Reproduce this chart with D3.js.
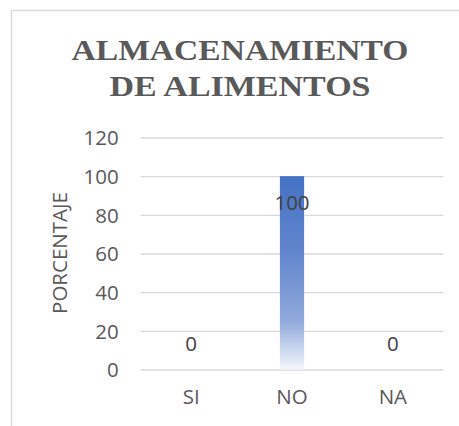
<!DOCTYPE html>
<html>
<head>
<meta charset="utf-8">
<script src="https://cdn.jsdelivr.net/npm/d3@7"></script>
<style>
  html, body { margin: 0; padding: 0; background: #fff; }
  svg { display: block; }
</style>
</head>
<body>
<svg id="chart" width="459" height="426"></svg>
<script>
const categories = ["SI", "NO", "NA"];
const values = [0, 100, 0];
const yTicks = [0, 20, 40, 60, 80, 100, 120];
const titleLines = ["ALMACENAMIENTO", "DE ALIMENTOS"];
const yAxisTitle = "PORCENTAJE";

const svg = d3.select("#chart");
const W = 459, H = 426;

// chart border
svg.append("rect")
  .attr("x", 11.5).attr("y", 10.5)
  .attr("width", W + 20).attr("height", H + 20)
  .attr("fill", "#fff").attr("stroke", "#d9d9d9").attr("stroke-width", 1.3);

const plot = { left: 140.7, right: 443.3, top: 137.5, bottom: 369.5 };

const x = d3.scaleBand().domain(categories)
  .range([plot.left, plot.right]).paddingInner(0.76).paddingOuter(0.38);
const y = d3.scaleLinear().domain([0, 120]).range([plot.bottom, plot.top]);

// gradient
const defs = svg.append("defs");
const grad = defs.append("linearGradient").attr("id", "barGrad")
  .attr("x1", 0).attr("y1", 0).attr("x2", 0).attr("y2", 1);
grad.append("stop").attr("offset", "0%").attr("stop-color", "#4472c4");
grad.append("stop").attr("offset", "40%").attr("stop-color", "#6286cd");
grad.append("stop").attr("offset", "75%").attr("stop-color", "#90aadc");
grad.append("stop").attr("offset", "100%").attr("stop-color", "#f4f7fc");

// gridlines
const gy = d3.axisLeft(y).tickValues(yTicks).tickSize(-(plot.right - plot.left)).tickFormat("");
const grid = svg.append("g").attr("transform", `translate(${plot.left},0)`).call(gy);
grid.select(".domain").remove();
grid.selectAll("line").attr("stroke", "#d9d9d9").attr("stroke-width", 1.3);

// y tick labels
const ya = d3.axisLeft(y).tickValues(yTicks).tickSize(0).tickPadding(22);
const yg = svg.append("g").attr("transform", `translate(${plot.left},0)`).call(ya);
yg.select(".domain").remove();
yg.selectAll("text").attr("font-family", "'Open Sans', sans-serif")
  .attr("font-size", 20.5).attr("fill", "#595959").attr("dy", "0.35em");

// x labels
const xa = d3.axisBottom(x).tickSize(0).tickPadding(20);
const xg = svg.append("g").attr("transform", `translate(0,${plot.bottom})`).call(xa);
xg.select(".domain").remove();
xg.selectAll("text").attr("font-family", "'Open Sans', sans-serif")
  .attr("font-size", 20.5).attr("fill", "#595959");

// bars
svg.append("g").selectAll("rect").data(values).join("rect")
  .attr("x", (d, i) => x(categories[i]))
  .attr("width", x.bandwidth())
  .attr("y", d => y(d))
  .attr("height", d => y(0) - y(d))
  .attr("fill", "url(#barGrad)");

// data labels
svg.append("g").selectAll("text").data(values).join("text")
  .attr("x", (d, i) => x(categories[i]) + x.bandwidth() / 2)
  .attr("y", d => d > 0 ? y(d) + 34 : y(d) - 19)
  .attr("text-anchor", "middle")
  .attr("font-family", "'Open Sans', sans-serif")
  .attr("font-size", 20.5).attr("fill", "#404040")
  .text(d => d);

// y axis title
svg.append("text")
  .attr("transform", `translate(67,253) rotate(-90)`)
  .attr("text-anchor", "middle")
  .attr("font-family", "'Open Sans', sans-serif")
  .attr("font-size", 20.5).attr("fill", "#595959")
  .text(yAxisTitle);

// title
const tl = [ {t: titleLines[0], y: 60, w: 337}, {t: titleLines[1], y: 95.5, w: 261} ];
svg.append("g").selectAll("text").data(tl).join("text")
  .attr("x", 240).attr("y", d => d.y)
  .attr("text-anchor", "middle")
  .attr("font-family", "'Liberation Serif', 'Times New Roman', serif")
  .attr("font-weight", "bold").attr("font-size", 30).attr("fill", "#595959")
  .attr("textLength", d => d.w).attr("lengthAdjust", "spacingAndGlyphs")
  .text(d => d.t);
</script>
</body>
</html>
